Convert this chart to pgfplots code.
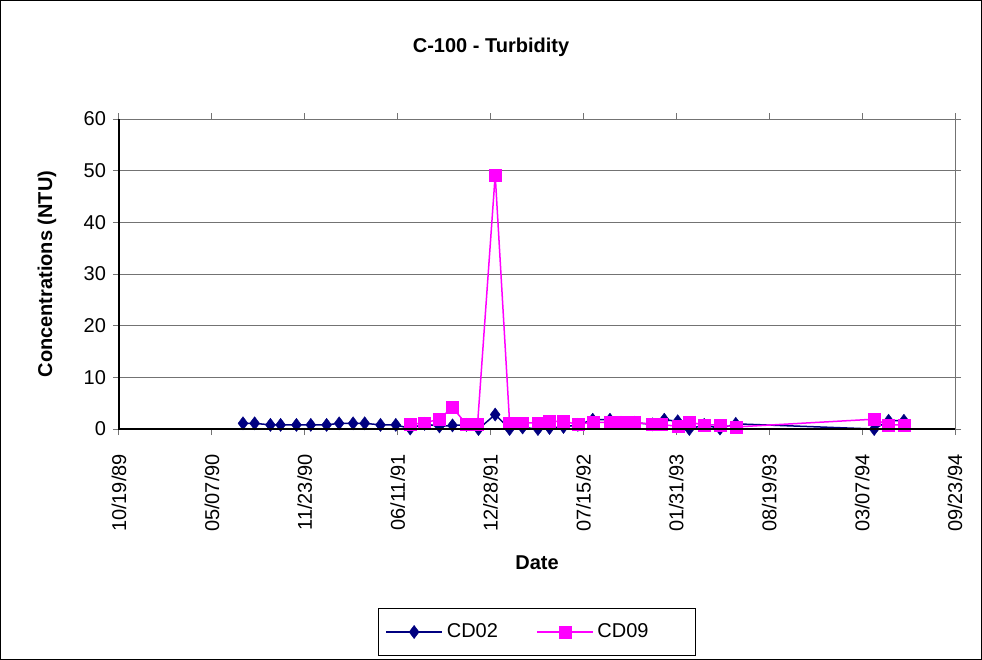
\documentclass[border=0pt]{standalone}
\usepackage{pgfplots}
\pgfplotsset{compat=1.18}
\usepackage{fontspec}
\setmainfont{Liberation Sans}
\definecolor{cdnavy}{RGB}{0,0,128}
\definecolor{cdmag}{RGB}{255,0,255}
\begin{document}
\begin{tikzpicture}
\draw[black, line width=0.5pt] (0.25pt,-0.25pt) rectangle (490.75pt,-329.75pt);
\begin{axis}[
  at={(59.5pt,-214.5pt)}, anchor=south west,
  scale only axis, width=418pt, height=155pt,
  xmin=32800, xmax=34600, ymin=0, ymax=60,
  scaled x ticks=false,
  xtick={32800,33000,33200,33400,33600,33800,34000,34200,34400,34600},
  xticklabels={10/19/89,05/07/90,11/23/90,06/11/91,12/28/91,07/15/92,01/31/93,08/19/93,03/07/94,09/23/94},
  ytick={0,10,20,30,40,50,60},
  /pgf/number format/assume math mode=true,
  ticklabel style={font=\fontsize{10}{12}\selectfont},
  xticklabel style={rotate=90, anchor=east},
  xticklabel shift=6pt,
  tick align=outside, major tick length=3pt,
  tick style={black!55, line width=0.5pt},
  axis line style={black!55, line width=0.5pt},
  ymajorgrids, major grid style={black!55, line width=0.5pt},
  every axis title shift=0pt,
  title={C-100 - Turbidity},
  title style={font=\bfseries\fontsize{10}{12}\selectfont, at={(axis description cs:0.445,1.232)}, anchor=center},
  xlabel={Date},
  xlabel style={font=\bfseries\fontsize{10}{12}\selectfont, at={(axis description cs:0.5,-0.432)}, anchor=center},
  ylabel={Concentrations (NTU)},
  ylabel style={font=\bfseries\fontsize{10}{12}\selectfont, at={(axis description cs:-0.0861,0.5)}, anchor=center, rotate=0},
  legend columns=2,
  legend style={at={(axis description cs:0.5,0)}, anchor=north, yshift=-89.5pt, draw=black, line width=0.5pt,
    font=\fontsize{10}{12}\selectfont, inner xsep=3.5pt, inner ysep=5.5pt,
    /tikz/every even column/.append style={column sep=17pt}},
  legend image code/.code={\draw[mark repeat=2,mark phase=2] plot coordinates {(0pt,0pt) (14pt,0pt) (28pt,0pt)};},
  after end axis/.code={\draw[black, line width=0.9pt] (rel axis cs:0,1) -- (rel axis cs:0,0) -- (rel axis cs:1,0);},
  clip=false,
]
\addplot[cdnavy, line width=0.75pt, mark=diamond*, mark size=3.3pt, mark options={solid, fill=cdnavy, draw=cdnavy, line width=0.2pt}] coordinates {
(33067,1.1) (33092,1.1) (33126,0.8) (33148,0.8) (33182,0.8) (33213,0.8) (33247,0.8)
(33274,1.1) (33304,1.1) (33329,1.1) (33363,0.8) (33396,0.8) (33427,0.1) (33458,1.0)
(33490,0.5) (33518,0.7) (33548,0.8) (33574,0.0) (33610,2.8) (33641,0.0) (33669,0.3)
(33702,0.0) (33727,0.2) (33757,0.4) (33788,0.8) (33820,1.8) (33857,1.8) (33881,1.2)
(33910,1.2) (33949,0.9) (33974,1.8) (34003,1.5) (34028,0.0) (34060,0.8) (34094,0.1)
(34128,1.0) (34426,0.0) (34457,1.6) (34490,1.6)
};
\addlegendentry{CD02}
\addplot[cdmag, line width=0.75pt, mark=square*, mark size=3pt, mark options={solid, fill=cdmag, draw=cdmag, line width=0.2pt}] coordinates {
(33427,0.9) (33458,1.2) (33490,1.9) (33518,4.2) (33548,0.9) (33572,0.9) (33610,49.2)
(33641,1.2) (33669,1.2) (33702,1.2) (33727,1.5) (33756,1.5) (33788,0.9) (33820,1.3)
(33857,1.3) (33881,1.3) (33910,1.3) (33949,0.9) (33967,0.9) (34003,0.5) (34028,1.3)
(34060,0.8) (34094,0.8) (34128,0.4) (34426,1.9) (34457,0.8) (34490,0.8)
};
\addlegendentry{CD09\hspace*{18pt}}
\end{axis}
\end{tikzpicture}
\end{document}
